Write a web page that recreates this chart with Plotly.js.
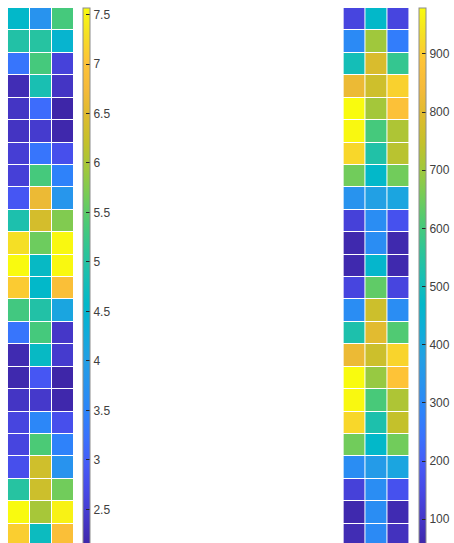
<!DOCTYPE html>
<html>
<head>
<meta charset="utf-8">
<script src="https://cdn.plot.ly/plotly-3.0.1.min.js"></script>
<style>
html,body{margin:0;padding:0;overflow:hidden;background:#fff;}
#chart{width:454px;height:546px;}
</style>
</head>
<body>
<div id="chart"></div>
<script>
// Left matrix (24 rows x 3 columns), top row first
var leftValues = [
  [4.58, 3.76, 5.34],
  [4.96, 5.01, 4.47],
  [3.27, 5.34, 2.57],
  [2.24, 4.85, 2.37],
  [2.37, 3.16, 2.13],
  [2.35, 2.46, 2.16],
  [2.51, 3.27, 2.78],
  [2.54, 5.34, 3.46],
  [2.89, 6.64, 3.82],
  [4.90, 6.37, 5.74],
  [7.29, 5.61, 7.54],
  [7.56, 4.63, 7.54],
  [7.10, 4.58, 6.89],
  [5.31, 4.96, 4.14],
  [3.27, 5.34, 2.40],
  [2.21, 4.63, 2.46],
  [2.18, 2.89, 2.13],
  [2.37, 2.43, 2.16],
  [2.62, 3.54, 2.78],
  [2.62, 5.39, 3.46],
  [2.78, 6.32, 3.76],
  [5.01, 6.29, 5.64],
  [7.56, 5.99, 7.48],
  [7.13, 4.69, 6.89]
];
// Right matrix (24 rows x 3 columns), top row first
var rightValues = [
  [137, 470, 137],
  [304, 702, 267],
  [507, 785, 572],
  [822, 766, 910],
  [979, 706, 877],
  [974, 600, 720],
  [919, 535, 734],
  [651, 470, 651],
  [332, 378, 396],
  [128, 313, 170],
  [63, 313, 63],
  [63, 461, 63],
  [137, 632, 137],
  [313, 762, 313],
  [526, 803, 614],
  [822, 762, 914],
  [979, 692, 887],
  [974, 604, 720],
  [919, 526, 748],
  [651, 470, 651],
  [313, 359, 396],
  [128, 313, 170],
  [63, 313, 68],
  [72, 304, 86]
];
var leftTicks = [2.5, 3, 3.5, 4, 4.5, 5, 5.5, 6, 6.5, 7, 7.5];
var rightTicks = [100, 200, 300, 400, 500, 600, 700, 800, 900];
var leftRange = [2.13, 7.566];
var rightRange = [54, 979];

var parula = [
  [0, 'rgb(62,38,168)'],
  [0.05, 'rgb(69,55,200)'],
  [0.1, 'rgb(71,72,229)'],
  [0.15, 'rgb(70,90,246)'],
  [0.2, 'rgb(58,113,253)'],
  [0.25, 'rgb(45,132,250)'],
  [0.3, 'rgb(40,147,238)'],
  [0.35, 'rgb(34,160,228)'],
  [0.4, 'rgb(15,173,217)'],
  [0.45, 'rgb(2,184,201)'],
  [0.5, 'rgb(25,191,178)'],
  [0.55, 'rgb(46,197,150)'],
  [0.6, 'rgb(75,202,118)'],
  [0.65, 'rgb(117,204,88)'],
  [0.7, 'rgb(160,200,60)'],
  [0.75, 'rgb(196,193,43)'],
  [0.8, 'rgb(222,187,45)'],
  [0.85, 'rgb(245,186,58)'],
  [0.9, 'rgb(254,195,55)'],
  [0.95, 'rgb(245,223,37)'],
  [1, 'rgb(249,251,14)']
];

function cbar(x, ticks) {
  return {
    x: x, xanchor: 'left', xpad: 0,
    y: 0.5, yanchor: 'middle', ypad: 0,
    len: 1, lenmode: 'fraction',
    thickness: 7, thicknessmode: 'pixels',
    outlinewidth: 1, outlinecolor: '#8c8c8c',
    ticks: 'inside', ticklen: 4, tickwidth: 1, tickcolor: '#262626',
    tickvals: ticks,
    tickprefix: '\u2002',
    tickfont: {family: 'Liberation Sans, Arial, sans-serif', size: 12, color: '#404040'}
  };
}

var traces = [
  {
    type: 'heatmap', z: leftValues, xaxis: 'x', yaxis: 'y',
    colorscale: parula, zmin: leftRange[0], zmax: leftRange[1],
    xgap: 1, ygap: 1, colorbar: cbar(0.1835, leftTicks), hoverinfo: 'z'
  },
  {
    type: 'heatmap', z: rightValues, xaxis: 'x2', yaxis: 'y2',
    colorscale: parula, zmin: rightRange[0], zmax: rightRange[1],
    xgap: 1, ygap: 1, colorbar: cbar(0.928, rightTicks), hoverinfo: 'z'
  }
];

var hiddenAxis = {showgrid: false, zeroline: false, showticklabels: false, ticks: '', showline: false};
var layout = {
  width: 454, height: 546,
  margin: {l: 0, r: 0, t: 8, b: 0},
  paper_bgcolor: '#ffffff', plot_bgcolor: '#ffffff',
  showlegend: false,
  xaxis: Object.assign({domain: [0.01762, 0.16454]}, hiddenAxis),
  yaxis: Object.assign({domain: [0, 1], autorange: 'reversed'}, hiddenAxis),
  xaxis2: Object.assign({domain: [0.76145, 0.90815], anchor: 'y2'}, hiddenAxis),
  yaxis2: Object.assign({domain: [0, 1], autorange: 'reversed', anchor: 'x2'}, hiddenAxis)
};

Plotly.newPlot('chart', traces, layout, {displayModeBar: false, staticPlot: true});
</script>
</body>
</html>
